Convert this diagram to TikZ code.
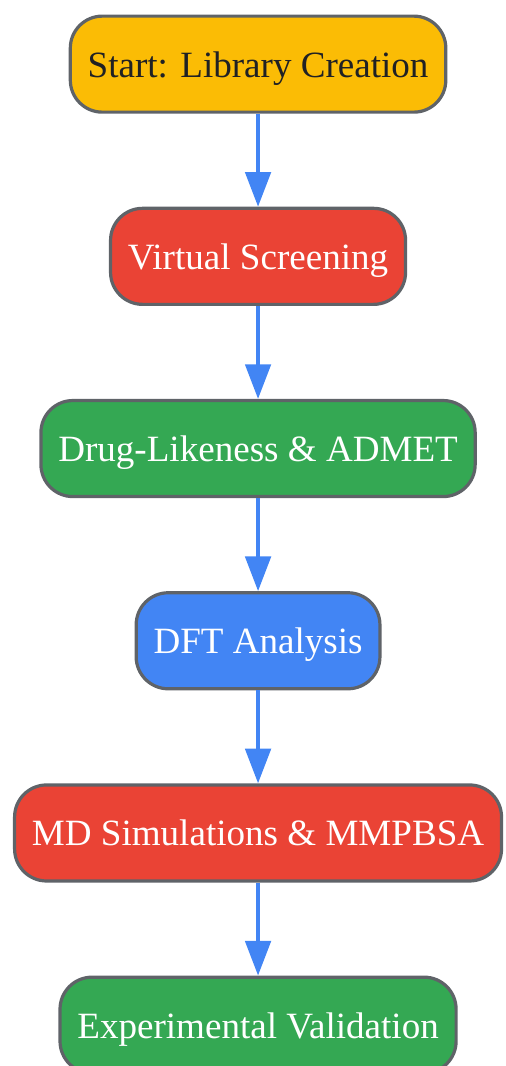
\documentclass[tikz,border=0pt]{standalone}
\usepackage{fontspec}
\setmainfont{Liberation Serif}
\usepackage{tikz}
\usetikzlibrary{arrows.meta, positioning}

\definecolor{gyellow}{HTML}{FBBC05}
\definecolor{gred}{HTML}{EA4335}
\definecolor{ggreen}{HTML}{34A853}
\definecolor{gblue}{HTML}{4285F4}
\definecolor{gborder}{HTML}{5F6368}
\definecolor{gtext}{HTML}{202124}

\tikzset{
  stage/.style={draw=gborder, line width=2.4pt, rounded corners=24pt,
    minimum height=72pt, inner xsep=13pt, text=white,
    text height=20pt, text depth=0.5pt,
    font=\fontsize{27.8}{32}\selectfont},
  flow/.style={gblue, line width=3pt, -{Triangle[length=26pt,width=19pt]}}
}

\begin{document}
\begin{tikzpicture}[node distance=2.45cm]
\useasboundingbox (0,0) rectangle (13.31,-28.09);

\node[stage, fill=gyellow, text=gtext] (start) at (6.8,-1.69) {Start: Library Creation};
\node[stage, fill=gred, below=of start] (vs) {Virtual Screening};
\node[stage, fill=ggreen, below=of vs] (admet) {Drug-Likeness \& ADMET};
\node[stage, fill=gblue, below=of admet] (dft) {DFT Analysis};
\node[stage, fill=gred, below=of dft] (md) {MD Simulations \& MMPBSA};
\node[stage, fill=ggreen, below=of md] (exp) {Experimental Validation};

\draw[flow] (start) -- (vs);
\draw[flow] (vs) -- (admet);
\draw[flow] (admet) -- (dft);
\draw[flow] (dft) -- (md);
\draw[flow] (md) -- (exp);
\end{tikzpicture}
\end{document}
